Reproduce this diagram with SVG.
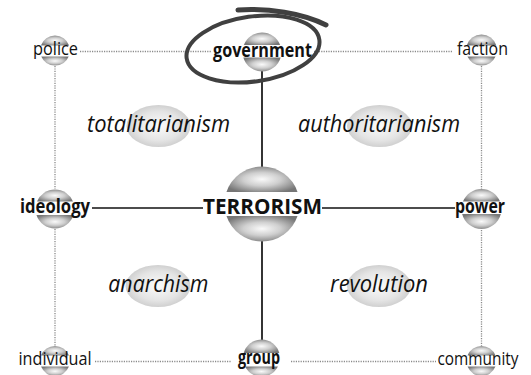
<svg xmlns="http://www.w3.org/2000/svg" width="531" height="375" viewBox="0 0 531 375">
<style>
.solid{stroke:#111;stroke-width:1.7;fill:none}
.dot{stroke:#8a8a8a;stroke-width:1.3;stroke-dasharray:1.2 1.2;fill:none}
.cap{fill:url(#sph)}
.lbl{font-family:"Open Sans","Liberation Sans",sans-serif;font-size:18.5px;fill:#111;text-anchor:middle}
.b{font-weight:bold;font-size:19px}
.big{font-weight:bold;font-size:22px}
.it{font-family:"Open Sans","Liberation Sans",sans-serif;font-style:italic;font-size:23px;fill:#111;text-anchor:middle}
.blob{fill:url(#blob)}
</style>
<defs>
<radialGradient id="sph" cx="50%" cy="50%" r="58%">
<stop offset="0" stop-color="#fafafa"/>
<stop offset="0.45" stop-color="#cfcfcf"/>
<stop offset="1" stop-color="#767676"/>
</radialGradient>
<radialGradient id="blob" cx="50%" cy="50%" r="50%">
<stop offset="0" stop-color="#fbfbfb"/>
<stop offset="0.7" stop-color="#e4e4e4"/>
<stop offset="1" stop-color="#d0d0d0"/>
</radialGradient>
</defs>
<rect width="531" height="375" fill="#fff"/>

<g id="regions">
<ellipse class="blob" cx="158.5" cy="126" rx="32" ry="21"/>
<ellipse class="blob" cx="379.5" cy="126" rx="32.5" ry="21"/>
<ellipse class="blob" cx="158" cy="286" rx="32.5" ry="21"/>
<ellipse class="blob" cx="379" cy="286" rx="32" ry="21"/>
<text class="it" x="158.5" y="132" textLength="143" lengthAdjust="spacingAndGlyphs">totalitarianism</text>
<text class="it" x="379" y="132" textLength="162" lengthAdjust="spacingAndGlyphs">authoritarianism</text>
<text class="it" x="158.3" y="292" textLength="100" lengthAdjust="spacingAndGlyphs">anarchism</text>
<text class="it" x="379" y="292" textLength="98" lengthAdjust="spacingAndGlyphs">revolution</text>
</g>

<g id="connectors">
<line class="solid" x1="262" y1="71" x2="262" y2="167"/>
<line class="solid" x1="262" y1="241" x2="262" y2="340"/>
<line class="solid" x1="92" y1="208" x2="203" y2="208"/>
<line class="solid" x1="322" y1="208" x2="455" y2="208"/>
<line class="dot" x1="80" y1="51.5" x2="211" y2="51.5"/>
<line class="dot" x1="314" y1="51.5" x2="452" y2="51.5"/>
<line class="dot" x1="95" y1="361.5" x2="231" y2="361.5"/>
<line class="dot" x1="291" y1="361.5" x2="436" y2="361.5"/>
<line class="dot" x1="55" y1="66" x2="55" y2="189"/>
<line class="dot" x1="55" y1="229" x2="55" y2="346"/>
<line class="dot" x1="481.5" y1="66" x2="481.5" y2="189"/>
<line class="dot" x1="481.5" y1="230" x2="481.5" y2="346"/>
</g>

<g id="police">
<path class="cap" d="M40.86,45.5 A15,15 0 0 1 69.14,45.5 Z"/>
<path class="cap" d="M41.25,56.5 A15,15 0 0 0 68.75,56.5 Z"/>
<text class="lbl" x="55.5" y="55" textLength="45" lengthAdjust="spacingAndGlyphs">police</text>
</g>

<g id="government">
<path class="cap" d="M243.8,45 A19.5,19.5 0 0 1 280.2,45 Z"/>
<path class="cap" d="M243.29,57.5 A19.5,19.5 0 0 0 280.71,57.5 Z"/>
<text class="lbl b" x="262.5" y="57" textLength="99" lengthAdjust="spacingAndGlyphs">government</text>
</g>

<g id="faction">
<path class="cap" d="M466.67,45.5 A15.5,15.5 0 0 1 496.33,45.5 Z"/>
<path class="cap" d="M467.43,56.5 A15.5,15.5 0 0 0 495.57,56.5 Z"/>
<text class="lbl" x="482.5" y="55" textLength="51" lengthAdjust="spacingAndGlyphs">faction</text>
</g>

<g id="ideology">
<path class="cap" d="M37,201.5 A19.5,19.5 0 0 1 73,201.5 Z"/>
<path class="cap" d="M36.45,215 A19.5,19.5 0 0 0 73.55,215 Z"/>
<text class="lbl b" x="55" y="213" textLength="70" lengthAdjust="spacingAndGlyphs">ideology</text>
</g>

<g id="terrorism">
<path class="cap" d="M226.47,192 A37.5,37.5 0 0 1 297.53,192 Z"/>
<path class="cap" d="M226.47,216 A37.5,37.5 0 0 0 297.53,216 Z"/>
<text class="lbl big" x="262.5" y="213.5" textLength="119" lengthAdjust="spacingAndGlyphs">TERRORISM</text>
</g>

<g id="power">
<path class="cap" d="M462.96,201.5 A20,20 0 0 1 500.04,201.5 Z"/>
<path class="cap" d="M462.14,214 A20,20 0 0 0 500.86,214 Z"/>
<text class="lbl b" x="480" y="213" textLength="50" lengthAdjust="spacingAndGlyphs">power</text>
</g>

<g id="individual">
<path class="cap" d="M41.04,355.5 A15,15 0 0 1 68.96,355.5 Z"/>
<path class="cap" d="M41.04,366.5 A15,15 0 0 0 68.96,366.5 Z"/>
<text class="lbl" x="55" y="365" textLength="73" lengthAdjust="spacingAndGlyphs">individual</text>
</g>

<g id="group">
<path class="cap" d="M243.69,353 A18.5,18.5 0 0 1 279.31,353 Z"/>
<path class="cap" d="M245.07,366.5 A18.5,18.5 0 0 0 277.93,366.5 Z"/>
<text class="lbl b" x="259" y="364" textLength="42" lengthAdjust="spacingAndGlyphs">group</text>
</g>

<g id="community">
<path class="cap" d="M467.54,355.5 A15,15 0 0 1 495.46,355.5 Z"/>
<path class="cap" d="M467.54,366.5 A15,15 0 0 0 495.46,366.5 Z"/>
<text class="lbl" x="478" y="365" textLength="81" lengthAdjust="spacingAndGlyphs">community</text>
</g>

<g id="highlight">
<ellipse cx="253" cy="49" rx="67" ry="32.5" transform="rotate(-8 253 49)" fill="none" stroke="#404040" stroke-width="4"/>
<path d="M238,10 C268,8 302,13 326,25" fill="none" stroke="#404040" stroke-width="5" stroke-linecap="round"/>
</g>
</svg>
